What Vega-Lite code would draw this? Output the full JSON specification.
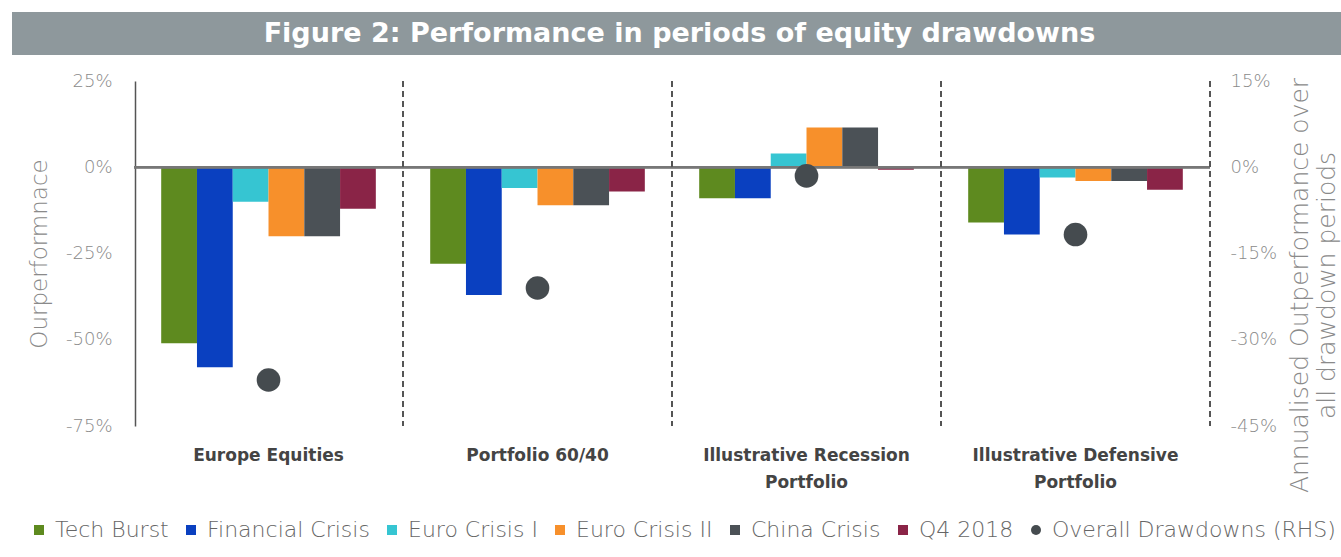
{
  "$schema": "https://vega.github.io/schema/vega-lite/v6.json",
  "padding": {"left": 12, "top": 12, "right": 0, "bottom": 5},
  "background": "white",
  "config": {
    "view": {"stroke": null},
    "font": "Open Sans",
    "locale": {"number": {"decimal": ".", "thousands": ",", "grouping": [3], "currency": ["$", ""], "minus": "-"}}
  },
  "datasets": {
    "bars": [
      {"group": "Europe Equities", "series": "Tech Burst", "value": -0.51},
      {"group": "Europe Equities", "series": "Financial Crisis", "value": -0.58},
      {"group": "Europe Equities", "series": "Euro Crisis I", "value": -0.10},
      {"group": "Europe Equities", "series": "Euro Crisis II", "value": -0.20},
      {"group": "Europe Equities", "series": "China Crisis", "value": -0.20},
      {"group": "Europe Equities", "series": "Q4 2018", "value": -0.12},
      {"group": "Portfolio 60/40", "series": "Tech Burst", "value": -0.28},
      {"group": "Portfolio 60/40", "series": "Financial Crisis", "value": -0.37},
      {"group": "Portfolio 60/40", "series": "Euro Crisis I", "value": -0.06},
      {"group": "Portfolio 60/40", "series": "Euro Crisis II", "value": -0.11},
      {"group": "Portfolio 60/40", "series": "China Crisis", "value": -0.11},
      {"group": "Portfolio 60/40", "series": "Q4 2018", "value": -0.07},
      {"group": "Illustrative Recession Portfolio", "series": "Tech Burst", "value": -0.09},
      {"group": "Illustrative Recession Portfolio", "series": "Financial Crisis", "value": -0.09},
      {"group": "Illustrative Recession Portfolio", "series": "Euro Crisis I", "value": 0.04},
      {"group": "Illustrative Recession Portfolio", "series": "Euro Crisis II", "value": 0.115},
      {"group": "Illustrative Recession Portfolio", "series": "China Crisis", "value": 0.115},
      {"group": "Illustrative Recession Portfolio", "series": "Q4 2018", "value": -0.007},
      {"group": "Illustrative Defensive Portfolio", "series": "Tech Burst", "value": -0.16},
      {"group": "Illustrative Defensive Portfolio", "series": "Financial Crisis", "value": -0.195},
      {"group": "Illustrative Defensive Portfolio", "series": "Euro Crisis I", "value": -0.03},
      {"group": "Illustrative Defensive Portfolio", "series": "Euro Crisis II", "value": -0.04},
      {"group": "Illustrative Defensive Portfolio", "series": "China Crisis", "value": -0.04},
      {"group": "Illustrative Defensive Portfolio", "series": "Q4 2018", "value": -0.065}
    ],
    "dots": [
      {"group": "Europe Equities", "overall": -0.37},
      {"group": "Portfolio 60/40", "overall": -0.21},
      {"group": "Illustrative Recession Portfolio", "overall": -0.015},
      {"group": "Illustrative Defensive Portfolio", "overall": -0.117}
    ]
  },
  "vconcat": [
    {
      "width": 1335,
      "height": 43,
      "view": {"fill": "#8e989c", "stroke": null},
      "data": {"values": [{"t": "Figure 2: Performance in periods of equity drawdowns"}]},
      "mark": {"type": "text", "font": "DejaVu Sans", "fontWeight": "bold", "fontSize": 27, "color": "white", "baseline": "middle", "align": "center"},
      "encoding": {"text": {"field": "t"}}
    },
    {
      "width": 1198,
      "height": 345,
      "layer": [
        {
          "data": {"name": "bars"},
          "layer": [
            {
              "mark": {"type": "bar"},
              "encoding": {
                "x": {
                  "field": "group", "type": "nominal",
                  "sort": ["Europe Equities", "Portfolio 60/40", "Illustrative Recession Portfolio", "Illustrative Defensive Portfolio"],
                  "scale": {"paddingInner": 0, "paddingOuter": 0.2268, "align": 1},
                  "axis": {
                    "title": null, "domain": false, "ticks": false, "labelAngle": 0,
                    "labelFont": "DejaVu Sans", "labelFontWeight": "bold", "labelFontSize": 17, "labelColor": "#444",
                    "labelPadding": 21, "labelLineHeight": 27, "labelLimit": 400,
                    "labelExpr": "length(datum.label) > 20 ? [slice(datum.label, 0, lastindexof(datum.label, ' ')), slice(datum.label, lastindexof(datum.label, ' ') + 1)] : datum.label"
                  }
                },
                "xOffset": {
                  "field": "series", "type": "nominal",
                  "sort": ["Tech Burst", "Financial Crisis", "Euro Crisis I", "Euro Crisis II", "China Crisis", "Q4 2018"],
                  "scale": {"paddingInner": 0, "paddingOuter": 0.76}
                },
                "y": {
                  "field": "value", "type": "quantitative",
                  "scale": {"domain": [-0.75, 0.25], "nice": false, "zero": false},
                  "axis": {
                    "title": "Ourperformnace", "format": ".0%", "values": [-0.75, -0.5, -0.25, 0, 0.25],
                    "offset": -123,
                    "grid": false, "ticks": false, "domain": true, "domainColor": "#555", "domainWidth": 1.5,
                    "labelFont": "DejaVu Sans", "labelFontWeight": 200, "labelFontSize": 18, "labelColor": "#8a8a8a", "labelPadding": 23,
                    "titleFont": "DejaVu Sans", "titleFontSize": 23, "titleFontWeight": 200, "titleColor": "#8a8a8a", "titlePadding": 14
                  }
                },
                "color": {
                  "field": "series", "type": "nominal",
                  "scale": {
                    "domain": ["Tech Burst", "Financial Crisis", "Euro Crisis I", "Euro Crisis II", "China Crisis", "Q4 2018", "Overall Drawdowns (RHS)"],
                    "range": ["#5e8a1f", "#0a40c0", "#36c5d2", "#f7902b", "#4b5156", "#8a2447", "#454b4f"]
                  },
                  "legend": {
                    "title": null, "orient": "none", "legendX": 16, "legendY": 507, "direction": "horizontal",
                    "symbolType": "square", "symbolSize": 100, "symbolStrokeWidth": 0,
                    "labelFont": "DejaVu Sans", "labelFontWeight": 200,
                    "labelFontSize": 22, "labelColor": "#666", "labelOffset": 5, "labelLimit": 500, "columnPadding": 11,
                    "encode": {"symbols": {"update": {"shape": {"signal": "datum.label == 'Overall Drawdowns (RHS)' ? 'circle' : 'square'"}}}}
                  }
                }
              }
            },
            {
              "mark": {"type": "rect", "color": "#777"},
              "encoding": {
                "x": {"field": "group", "type": "nominal", "sort": ["Europe Equities", "Portfolio 60/40", "Illustrative Recession Portfolio", "Illustrative Defensive Portfolio"]},
                "y": {"datum": 0.003},
                "y2": {"datum": -0.003}
              }
            },
            {
              "mark": {"type": "rule", "color": "#555", "strokeWidth": 1.5, "strokeDash": [6, 4]},
              "encoding": {"x": {"field": "group", "type": "nominal", "bandPosition": 1, "sort": ["Europe Equities", "Portfolio 60/40", "Illustrative Recession Portfolio", "Illustrative Defensive Portfolio"]}}
            }
          ]
        },
        {
          "data": {"name": "dots"},
          "mark": {"type": "circle", "size": 560, "opacity": 1},
          "encoding": {
            "x": {"field": "group", "type": "nominal", "sort": ["Europe Equities", "Portfolio 60/40", "Illustrative Recession Portfolio", "Illustrative Defensive Portfolio"]},
            "y": {
              "field": "overall", "type": "quantitative",
              "scale": {"domain": [-0.45, 0.15], "nice": false, "zero": false},
              "axis": {
                "orient": "right", "format": ".0%", "values": [-0.45, -0.3, -0.15, 0, 0.15],
                "grid": false, "ticks": false, "domain": false,
                "labelFont": "DejaVu Sans", "labelFontWeight": 200, "labelFontSize": 18, "labelColor": "#8a8a8a", "labelPadding": 20,
                "title": ["Annualised Outperformance over", "all drawdown periods"],
                "titleFont": "DejaVu Sans", "titleAngle": 270, "titleFontSize": 25, "titleFontWeight": 200, "titleColor": "#8a8a8a",
                "titlePadding": 9, "titleLineHeight": 27, "titleY": 204
              }
            },
            "color": {"datum": "Overall Drawdowns (RHS)"}
          }
        }
      ],
      "resolve": {"scale": {"y": "independent"}}
    }
  ],
  "spacing": 17
}
